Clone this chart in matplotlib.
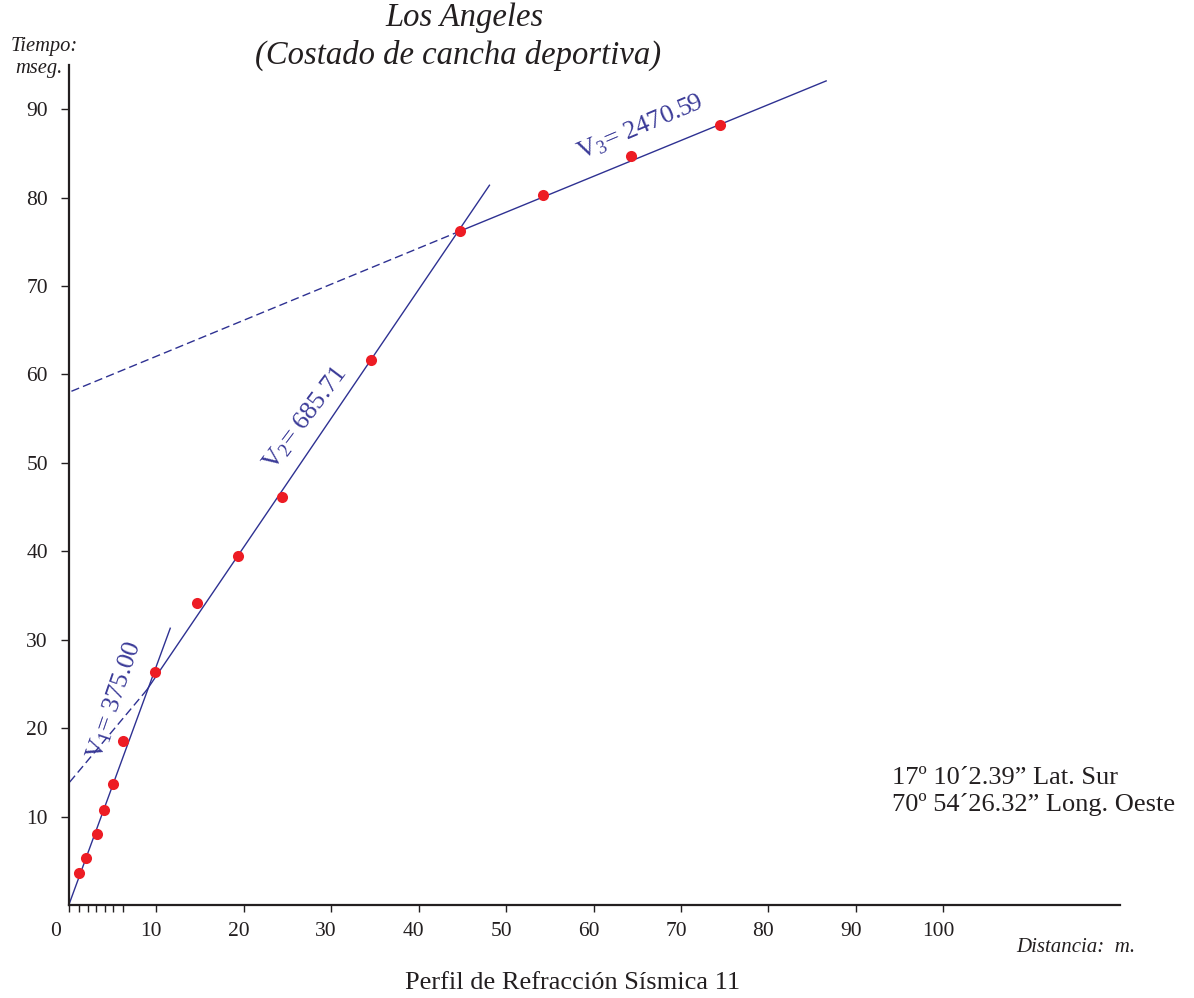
import matplotlib
matplotlib.use("Agg")
import matplotlib.pyplot as plt
import matplotlib.transforms as mtransforms
import numpy as np

plt.rcParams['font.family'] = ['Liberation Serif', 'DejaVu Serif']
plt.rcParams['mathtext.fontset'] = 'custom'
plt.rcParams['mathtext.rm'] = 'Liberation Serif'
plt.rcParams['mathtext.it'] = 'Liberation Serif:italic'

# travel-time picks (distance m, time ms)
dist = [1.2, 2.0, 3.2, 4.0, 5.1, 6.2, 9.8, 14.7, 19.4, 24.4, 34.6, 44.7, 54.2, 64.3, 74.5]
time = [3.6, 5.3, 8.0, 10.8, 13.7, 18.5, 26.3, 34.2, 39.5, 46.1, 61.6, 76.2, 80.3, 84.7, 88.2]

# fitted segments (start, end) in data units
v1_x = [0.0, 11.6];  v1_y = [0.0, 31.3]
v1d_x = [0.1, 8.9];  v1d_y = [13.9, 24.3]
v2_x = [8.9, 48.1];  v2_y = [24.3, 81.4]
v3_x = [44.7, 86.6]; v3_y = [76.2, 93.2]
v3d_x = [0.3, 44.7]; v3d_y = [58.1, 76.2]

xticks = [0, 10, 20, 30, 40, 50, 60, 70, 80, 90, 100]
xminor = [1.2, 2.2, 3.1, 4.1, 5.1, 6.2]
yticks = [10, 20, 30, 40, 50, 60, 70, 80, 90]

LINE = "#2e3192"; TXT = "#3b3b98"; DOT = "#ed1c24"; INK = "#231f20"
W, H = 1194, 998

fig = plt.figure(figsize=(W/100, H/100), dpi=100)
ax = fig.add_axes([68.8/W, (H-905)/H, (1120-68.8)/W, (905-65)/H])
ax.set_xlim(0, 120.2); ax.set_ylim(0, 95.0)

ax.plot(v1_x, v1_y, color=LINE, lw=1.0)
ax.plot(v2_x, v2_y, color=LINE, lw=1.0)
ax.plot(v3_x, v3_y, color=LINE, lw=1.0)
ax.plot(v1d_x, v1d_y, color=LINE, lw=1.0, dashes=(6, 3))
ax.plot(v3d_x, v3d_y, color=LINE, lw=1.0, dashes=(6, 3))
ax.plot(dist, time, "o", color=DOT, ms=8, mec="none", zorder=5)

ax.text(5.2, 23.1, r"V$_{1}$= 375.00", color=TXT, fontsize=19, rotation=71,
        ha="center", va="center", rotation_mode="anchor")
ax.text(27.0, 55.0, r"V$_{2}$= 685.71", color=TXT, fontsize=19, rotation=53,
        ha="center", va="center", rotation_mode="anchor")
ax.text(65.4, 87.9, r"V$_{3}$= 2470.59", color=TXT, fontsize=19, rotation=23,
        ha="center", va="center", rotation_mode="anchor")

for s in ["top", "right"]:
    ax.spines[s].set_visible(False)
for s in ["left", "bottom"]:
    ax.spines[s].set_color(INK); ax.spines[s].set_linewidth(1.6)

ax.set_xticks(xticks)
ax.set_xticks(xminor, minor=True)
ax.set_yticks(yticks)
ax.tick_params(axis="x", which="major", length=5, width=1, colors=INK, labelsize=15.5, pad=7)
ax.tick_params(axis="x", which="minor", length=5, width=1, colors=INK)
ax.tick_params(axis="y", which="major", length=6, width=1, colors=INK, labelsize=15.5, pad=9)
ax.patch.set_visible(False)

# x labels sit a little left of their ticks, "0" well left of the origin
for i, lab in enumerate(ax.get_xticklabels()):
    dx = -13 if i == 0 else -5
    lab.set_transform(lab.get_transform() +
                      mtransforms.ScaledTranslation(dx/100, 0, fig.dpi_scale_trans))

fig.text(465/W, 1-18/H, "Los Angeles", fontsize=23.5, style="italic", color=INK,
         ha="center", va="center")
fig.text(458/W, 1-55/H, "(Costado de cancha deportiva)", fontsize=23.5, style="italic",
         color=INK, ha="center", va="center")
fig.text(44.5/W, 1-46/H, "Tiempo:", fontsize=14.8, style="italic", color=INK,
         ha="center", va="center")
fig.text(38.7/W, 1-69/H, "mseg.", fontsize=14.8, style="italic", color=INK,
         ha="center", va="center")
fig.text(1076/W, 1-948/H, "Distancia:  m.", fontsize=15, style="italic", color=INK,
         ha="center", va="center")
fig.text(573/W, 1-983/H, "Perfil de Refracción Sísmica 11", fontsize=19, color=INK,
         ha="center", va="center")
fig.text(892/W, 1-791.5/H, "17º 10´2.39” Lat. Sur\n70º 54´26.32” Long. Oeste",
         fontsize=19, color=INK, ha="left", va="center", linespacing=1.2)

fig.savefig("out.png", dpi=100, facecolor="white")
